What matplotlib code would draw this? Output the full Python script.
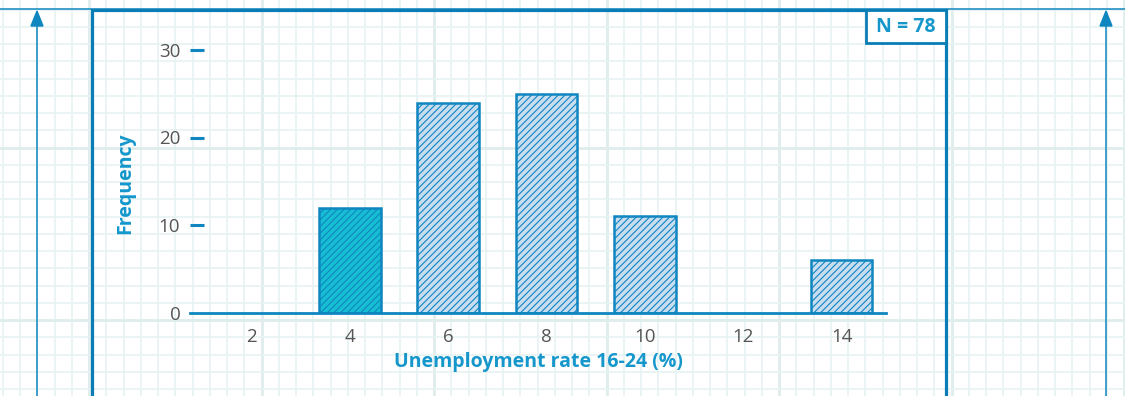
import matplotlib.pyplot as plt
from matplotlib.patches import Polygon, Rectangle
import numpy as np

# data
rates = [2, 4, 6, 8, 10, 12, 14]
freq = [0, 12, 24, 25, 11, 0, 6]
highlight = 4
y_ticks = [0, 10, 20, 30]
n_label = "N = 78"
x_title = "Unemployment rate 16-24 (%)"
y_title = "Frequency"

BLUE = "#0f86c0"
FRAME = "#0a7db6"
TEXT_BLUE = "#1597cc"
CYAN = "#17bdd3"
LIGHT = "#c8ddf0"
GRID = "#e7f2f2"
GRID_BOLD = "#dfeded"
GREY = "#555555"

plt.rcParams["font.family"] = ["Open Sans", "DejaVu Sans"]
plt.rcParams["hatch.linewidth"] = 0.8

W, H = 1125, 396
fig = plt.figure(figsize=(W / 100, H / 100), dpi=100)
bg = fig.add_axes([0, 0, 1, 1])
bg.set_xlim(0, W)
bg.set_ylim(H, 0)
bg.axis("off")

# graph paper
cell = 17.25
for k in range(-20, 70):
    x = 261.7 + cell * k
    bold = k % 10 == 0
    bg.axvline(x, color=GRID_BOLD if bold else GRID, lw=2.0 if bold else 1.2, zorder=0)
for k in range(-5, 25):
    y = 320 - cell * k
    bold = k % 10 == 0
    bg.axhline(y, color=GRID_BOLD if bold else GRID, lw=2.0 if bold else 1.2, zorder=0)

# decorations
bg.plot([0, W], [9, 9], color=BLUE, lw=1.1, zorder=2)
for ax_x in (37, 1106):
    bg.plot([ax_x, ax_x], [H + 5, 20], color=BLUE, lw=1.1, zorder=2)
    bg.add_patch(Polygon([(ax_x - 6, 26), (ax_x + 6, 26), (ax_x, 11)], color=BLUE, zorder=3))
bg.plot([92, 92, 946, 946], [H + 5, 10, 10, H + 5], color=FRAME, lw=2.3,
        solid_joinstyle="miter", zorder=3)
bg.add_patch(Rectangle((866, 10), 80, 33, facecolor="white", edgecolor=FRAME, lw=2.0, zorder=4))
bg.text(906, 27, n_label, color=TEXT_BLUE, fontsize=14, fontweight="bold",
        ha="center", va="center", zorder=5)
bg.text(125, 183, y_title, color=TEXT_BLUE, fontsize=14, fontweight="bold",
        rotation=90, ha="center", va="center")
bg.text(538, 362, x_title, color=TEXT_BLUE, fontsize=14, fontweight="bold",
        ha="center", va="center")

# chart
ax = fig.add_axes([190 / W, (H - 312.5) / H, 696 / W, 32 * 8.75 / H])
ax.set_facecolor("none")
ax.set_xlim(0.75, 14.9)
ax.set_ylim(0, 32)
for r, f in zip(rates, freq):
    if f == 0:
        continue
    hi = r == highlight
    ax.bar(r, f, width=1.25, facecolor=CYAN if hi else LIGHT, edgecolor=BLUE,
           hatch="/////", lw=1.8, zorder=2)
for name in ("top", "right", "left"):
    ax.spines[name].set_visible(False)
ax.spines["bottom"].set_color(BLUE)
ax.spines["bottom"].set_linewidth(2.0)
ax.spines["bottom"].set_zorder(3)
ax.set_xticks(rates)
ax.set_yticks(y_ticks)
ax.tick_params(axis="x", length=0, pad=11, labelsize=13.5, labelcolor=GREY)
ax.tick_params(axis="y", direction="in", length=10, width=2.2, color=BLUE,
               pad=7, labelsize=13.5, labelcolor=GREY)
ax.yaxis.get_major_ticks()[0].tick1line.set_visible(False)

fig.savefig("out.png", dpi=100)
